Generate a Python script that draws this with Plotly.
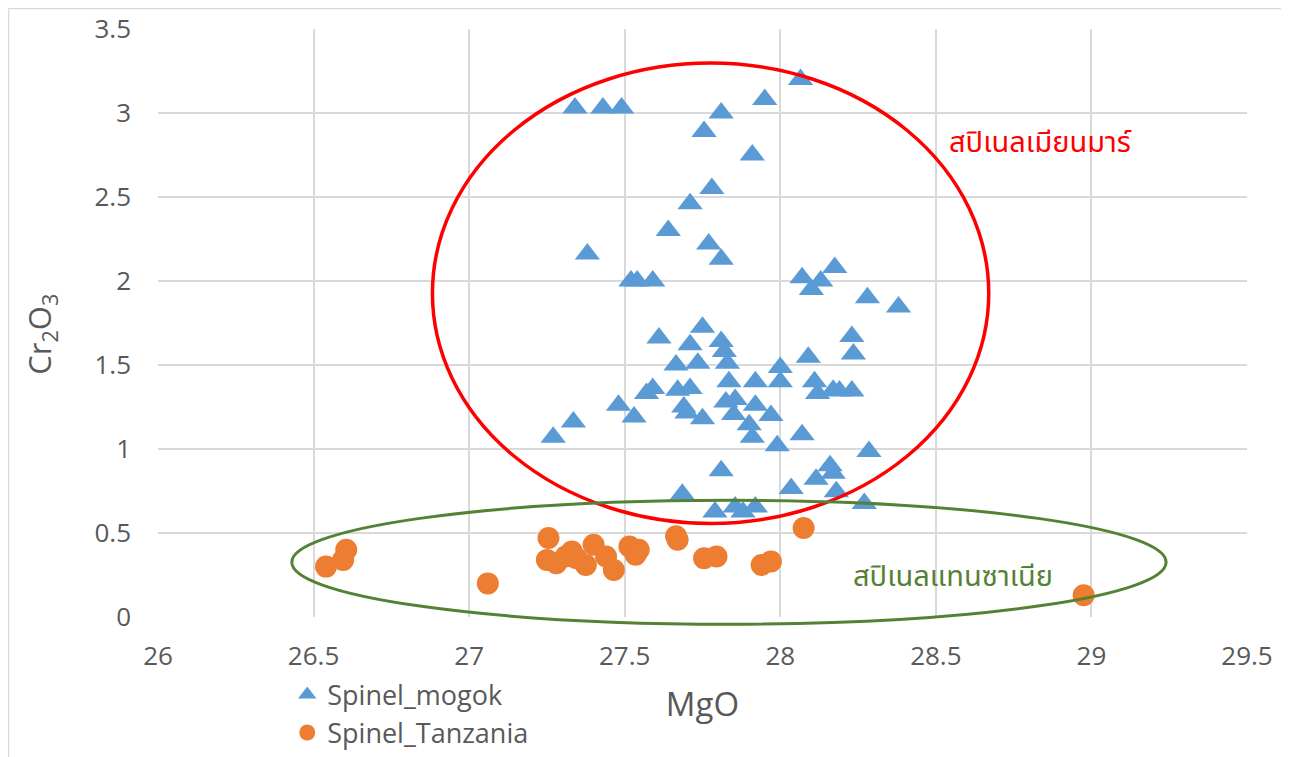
import plotly.graph_objects as go

# ---- data ----
mogok_mgo = [27.34, 27.43, 27.49, 27.95, 28.065, 27.81, 27.755, 27.91, 27.78, 27.71,
             27.64, 27.38, 27.77, 27.81, 27.52, 27.54, 27.59, 28.07, 28.10, 28.13,
             28.175, 28.28, 28.38, 28.23, 28.235, 28.09, 28.00, 28.00, 28.11, 28.12,
             28.17, 28.19, 28.23, 27.97, 27.99, 28.07, 28.285, 28.16, 28.17, 28.115,
             28.035, 28.18, 28.27, 27.27, 27.335, 27.48, 27.53, 27.57, 27.59, 27.61,
             27.665, 27.67, 27.71, 27.69, 27.70, 27.71, 27.735, 27.75, 27.75, 27.81,
             27.82, 27.83, 27.835, 27.825, 27.855, 27.85, 27.90, 27.91, 27.92, 27.92,
             27.81, 27.685, 27.79, 27.855, 27.88, 27.92]
mogok_cr2o3 = [3.03, 3.03, 3.03, 3.08, 3.20, 3.00, 2.89, 2.75, 2.55, 2.46,
               2.30, 2.16, 2.22, 2.13, 2.00, 2.00, 2.00, 2.02, 1.95, 2.00,
               2.08, 1.90, 1.845, 1.67, 1.565, 1.546, 1.485, 1.40, 1.40, 1.33,
               1.35, 1.345, 1.345, 1.20, 1.02, 1.085, 0.985, 0.90, 0.855, 0.82,
               0.765, 0.745, 0.675, 1.07, 1.16, 1.26, 1.19, 1.33, 1.36, 1.66,
               1.50, 1.35, 1.62, 1.25, 1.215, 1.36, 1.51, 1.725, 1.18, 1.64,
               1.58, 1.51, 1.40, 1.28, 1.295, 1.205, 1.145, 1.07, 1.40, 1.26,
               0.87, 0.73, 0.625, 0.655, 0.625, 0.655]

tanz_mgo = [26.54, 26.595, 26.605, 27.06, 27.255, 27.25, 27.28, 27.31, 27.33, 27.345,
            27.375, 27.40, 27.44, 27.465, 27.515, 27.545, 27.535, 27.665, 27.67, 27.755,
            27.795, 27.94, 27.97, 28.075, 28.975]
tanz_cr2o3 = [0.30, 0.34, 0.40, 0.20, 0.47, 0.34, 0.32, 0.36, 0.39, 0.35,
              0.31, 0.43, 0.36, 0.28, 0.42, 0.40, 0.37, 0.48, 0.46, 0.35,
              0.36, 0.31, 0.33, 0.53, 0.13]

x_ticks = [26, 26.5, 27, 27.5, 28, 28.5, 29, 29.5]
y_ticks = [0, 0.5, 1, 1.5, 2, 2.5, 3, 3.5]

FONT = "Open Sans, Noto Sans, sans-serif"
THAI = "Noto Sans Thai, Leelawadee UI, Tahoma, Noto Sans, sans-serif"
GREY = "#595959"
GRID = "#D9D9D9"

fig = go.Figure()
fig.add_trace(go.Scatter(
    x=mogok_mgo, y=mogok_cr2o3, mode="markers", name="Spinel_mogok",
    marker=dict(symbol="triangle-up", size=22, color="#5B9BD5", line=dict(width=0)),
))
fig.add_trace(go.Scatter(
    x=tanz_mgo, y=tanz_cr2o3, mode="markers", name="Spinel_Tanzania",
    marker=dict(symbol="circle", size=22, color="#ED7D31", line=dict(width=0)),
))

# ellipses
fig.add_shape(type="circle", xref="x", yref="y", x0=26.882, x1=28.67, y0=0.557, y1=3.297,
              line=dict(color="#FF0000", width=3.5), layer="above")
fig.add_shape(type="circle", xref="paper", yref="paper", x0=0.12286, x1=0.92571, y0=-0.0123, y1=0.1986,
              line=dict(color="#548235", width=3), layer="above")

# chart frame (top and left edges)
fig.add_shape(type="line", xref="paper", yref="paper", x0=-0.1373, x1=1.05, y0=1.0349, y1=1.0349,
              line=dict(color=GRID, width=1.5))
fig.add_shape(type="line", xref="paper", yref="paper", x0=-0.1373, x1=-0.1373, y0=1.0349, y1=-0.25,
              line=dict(color=GRID, width=1.5))

fig.add_annotation(x=28.836, y=2.82, xref="x", yref="y", text="สปิเนลเมียนมาร์",
                   showarrow=False, font=dict(family=THAI, size=29, color="#FF0000"))
fig.add_annotation(x=28.555, y=0.236, xref="x", yref="y", text="สปิเนลแทนซาเนีย",
                   showarrow=False, font=dict(family=THAI, size=29, color="#548235"))

# y-axis title
fig.add_annotation(x=-0.1074, y=0.48, xref="paper", yref="paper", textangle=-90,
                   xanchor="center", yanchor="middle",
                   text="Cr<sub>2</sub>O<sub>3</sub>", showarrow=False,
                   font=dict(family=FONT, size=31, color=GREY))

fig.update_layout(
    width=1281, height=749,
    margin=dict(l=150, r=42, t=21, b=140, autoexpand=False),
    paper_bgcolor="white", plot_bgcolor="white",
    font=dict(family=FONT, color=GREY),
    showlegend=True,
    legend=dict(
        xref="container", yref="container", x=0.218, y=0.1157,
        xanchor="left", yanchor="top",
        font=dict(family=FONT, size=27, color=GREY),
        bgcolor="rgba(0,0,0,0)", tracegroupgap=0, itemwidth=30,
    ),
    xaxis=dict(
        range=[26, 29.5], tickvals=x_ticks, ticktext=[str(v) for v in x_ticks],
        showgrid=True, gridcolor=GRID, gridwidth=1.5, zeroline=False, showline=False,
        ticks="", ticklabelstandoff=21,
        tickfont=dict(family=FONT, size=26, color=GREY),
        title=dict(text="MgO", font=dict(family=FONT, size=33, color=GREY), standoff=20),
    ),
    yaxis=dict(
        range=[0, 3.5], tickvals=y_ticks, ticktext=[str(v) for v in y_ticks],
        showgrid=True, gridcolor=GRID, gridwidth=1.5, zeroline=False, showline=False,
        ticks="", ticklabelstandoff=26,
        tickfont=dict(family=FONT, size=26, color=GREY),
    ),
)

fig.write_html("out.html")
